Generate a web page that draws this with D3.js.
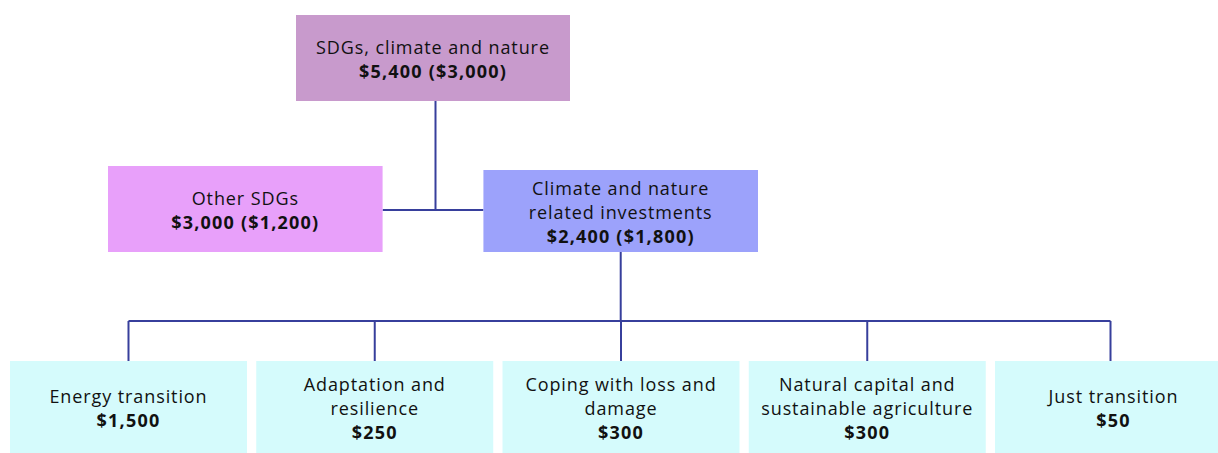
<!DOCTYPE html>
<html>
<head>
<meta charset="utf-8">
<script src="https://cdn.jsdelivr.net/npm/d3@7"></script>
<style>
  html, body { margin: 0; padding: 0; background: #fff; }
  svg { display: block; }
  text { font-family: "Open Sans", Lato, sans-serif; fill: #111; }
</style>
</head>
<body>
<div id="chart"></div>
<script>
// ---- data ----
const rootLabel = ["SDGs, climate and nature"];
const rootValue = "$5,400 ($3,000)";

const midCategories = ["Other SDGs", "Climate and nature related investments"];
const midLabels = [["Other SDGs"], ["Climate and nature", "related investments"]];
const midValues = ["$3,000 ($1,200)", "$2,400 ($1,800)"];

const leafCategories = ["Energy transition", "Adaptation and resilience", "Coping with loss and damage",
  "Natural capital and sustainable agriculture", "Just transition"];
const leafLabels = [["Energy transition"], ["Adaptation and", "resilience"], ["Coping with loss and", "damage"],
  ["Natural capital and", "sustainable agriculture"], ["Just transition"]];
const leafValues = ["$1,500", "$250", "$300", "$300", "$50"];

// ---- layout ----
const W = 1218, H = 453;
const colors = { root: "#c89acc", other: "#e8a0fa", climate: "#9ca2fb", leaf: "#d5fbfc", line: "#373f9c" };

const svg = d3.select("#chart").append("svg").attr("width", W).attr("height", H);

const tree = d3.hierarchy({
  name: "root", label: rootLabel, value: rootValue,
  children: [
    { name: midCategories[0], label: midLabels[0], value: midValues[0] },
    { name: midCategories[1], label: midLabels[1], value: midValues[1],
      children: leafCategories.map((c, i) => ({ name: c, label: leafLabels[i], value: leafValues[i] })) }
  ]
});

const xMid = d3.scaleBand().domain(midCategories).range([108, 758]).paddingInner(0.2686).paddingOuter(0);
const xLeaf = d3.scaleBand().domain(leafCategories).range([10, 1232]).paddingInner(0.0376).paddingOuter(0);

const rootW = 274;
const midGapCenter = (xMid(midCategories[0]) + xMid.bandwidth() + xMid(midCategories[1])) / 2;

tree.each(d => {
  if (d.depth === 0) {
    d.box = { x: midGapCenter - rootW / 2, y: 15, w: rootW, h: 86, fill: colors.root };
  } else if (d.depth === 1) {
    const i = midCategories.indexOf(d.data.name);
    d.box = { x: xMid(d.data.name), y: i === 0 ? 166 : 170, w: xMid.bandwidth(), h: i === 0 ? 86 : 82,
      fill: i === 0 ? colors.other : colors.climate };
  } else {
    d.box = { x: xLeaf(d.data.name), y: 361, w: xLeaf.bandwidth(), h: 92, fill: colors.leaf };
  }
});

const root = tree;
const other = root.children[0];
const climate = root.children[1];

// connectors
const lines = svg.append("g").attr("stroke", colors.line).attr("stroke-width", 2).attr("fill", "none");
const rootCx = root.box.x + root.box.w / 2 + 2.5;
const midY = 210;
lines.append("path").attr("d", `M${rootCx},${root.box.y + root.box.h}V${midY}`);
lines.append("path").attr("d", `M${other.box.x + other.box.w},${midY}H${climate.box.x}`);

const climCx = climate.box.x + climate.box.w / 2;
const busY = 321;
lines.append("path").attr("d", `M${climCx},${climate.box.y + climate.box.h}V${busY}`);
const leafCx = climate.children.map(d => d.box.x + d.box.w / 2);
lines.append("path").attr("d", `M${d3.min(leafCx)},${busY}H${d3.max(leafCx) - 3}`);
climate.children.forEach((d, i) => {
  const cx = i === leafCx.length - 1 ? leafCx[i] - 3 : leafCx[i];
  lines.append("path").attr("d", `M${cx},${busY}V${d.box.y}`);
});

// boxes
const nodes = svg.append("g").selectAll("g").data(root.descendants()).join("g");
nodes.append("rect")
  .attr("x", d => d.box.x).attr("y", d => d.box.y)
  .attr("width", d => d.box.w).attr("height", d => d.box.h)
  .attr("fill", d => d.box.fill);

const lh = 24, fs = 18;
nodes.each(function(d) {
  const g = d3.select(this);
  const lines = d.data.label.concat([d.data.value]);
  const n = lines.length;
  const cx = d.box.x + d.box.w / 2;
  const cy = d.box.y + d.box.h / 2 + 2;
  lines.forEach((t, i) => {
    const bold = i === n - 1;
    g.append("text")
      .attr("x", cx)
      .attr("y", cy + (i - (n - 1) / 2) * lh)
      .attr("dy", "0.35em")
      .attr("text-anchor", "middle")
      .attr("font-size", fs)
      .attr("font-weight", bold ? 700 : 400)
      .attr("letter-spacing", bold ? 1.2 : 0.9)
      .text(t);
  });
});
</script>
</body>
</html>
